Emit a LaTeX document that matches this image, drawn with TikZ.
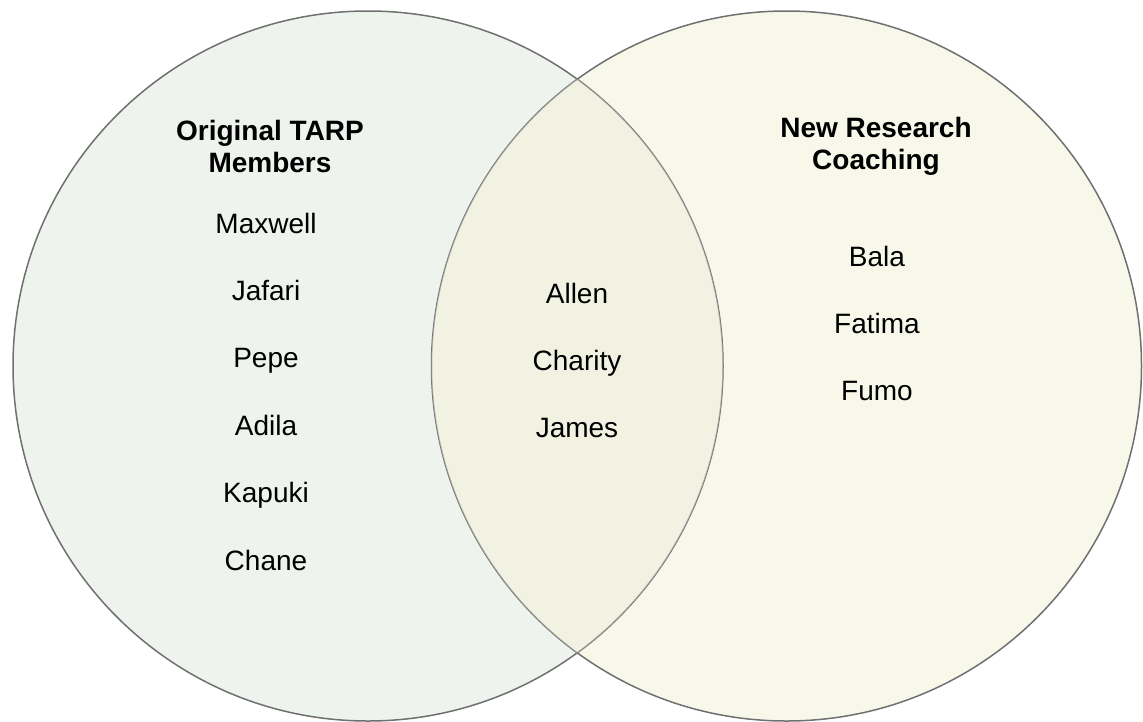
\documentclass[tikz,border=0pt]{standalone}
\usepackage{fontspec}
\setmainfont{Liberation Sans}
\usetikzlibrary{positioning}
\definecolor{leftset}{RGB}{238,243,238}
\definecolor{rightset}{RGB}{248,248,234}
\definecolor{bothset}{RGB}{238,238,222}
\definecolor{setline}{RGB}{112,112,112}
\tikzset{
  setname/.style={inner sep=0, outer sep=0, text height=21pt, text depth=6pt, font=\fontsize{28}{33}\selectfont},
  settitle/.style={inner sep=0, outer sep=0, align=center, font=\fontsize{28}{32}\selectfont\bfseries},
  setcircle/.style={draw=setline, line width=1.5pt}
}
\begin{document}
\begin{tikzpicture}[x=1pt, y=-1pt, node distance=40.4pt]
        \useasboundingbox (0,0) rectangle (1143,721);

        \coordinate (lc) at (368,366);
        \coordinate (rc) at (786.5,366);
        \fill[leftset] (lc) circle (355);
        \fill[rightset] (rc) circle (355);
        \draw[setcircle] (lc) circle (355);
        \draw[setcircle] (rc) circle (355);
        \begin{scope}
          \clip (lc) circle (355);
          \fill[bothset, opacity=0.5] (rc) circle (355);
        \end{scope}

        \draw (270,146.5) node [settitle] (ltitle) {Original TARP\\Members};
        \draw (876,146.5) node [settitle] (rtitle) {New Research\\Coaching};

        \draw (266,225.5) node [setname] (maxwell) {Maxwell};
        \node [setname, below=of maxwell] (jafari) {Jafari};
        \node [setname, below=of jafari] (pepe) {Pepe};
        \node [setname, below=of pepe] (adila) {Adila};
        \node [setname, below=of adila] (kapuki) {Kapuki};
        \node [setname, below=of kapuki] (chane) {Chane};

        \draw (577,295.5) node [setname] (allen) {Allen};
        \node [setname, below=of allen] (charity) {Charity};
        \node [setname, below=of charity] (james) {James};

        \draw (877,258.5) node [setname] (bala) {Bala};
        \node [setname, below=of bala] (fatima) {Fatima};
        \node [setname, below=of fatima] (fumo) {Fumo};
      \end{tikzpicture}
\end{document}
